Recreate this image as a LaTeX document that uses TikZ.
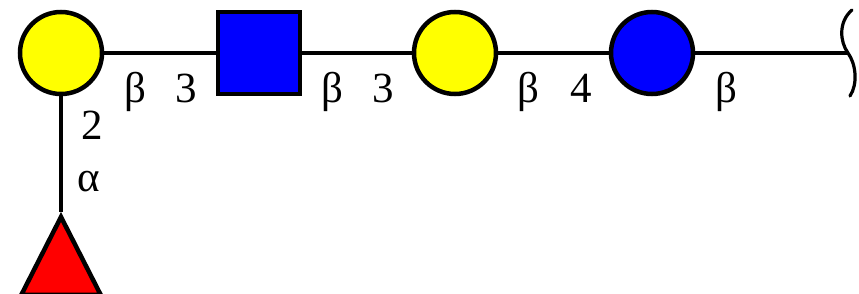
\documentclass[tikz,border=0pt]{standalone}
\usepackage{fontspec}
\setmainfont{Liberation Serif}
\newfontfamily\linkfont{Liberation Serif}
\usetikzlibrary{shapes.geometric}
\definecolor{galyellow}{HTML}{FFFF00}
\definecolor{glcblue}{HTML}{0000FF}
\definecolor{fucred}{HTML}{FF0000}
\tikzset{
  sugar/.style={draw=black, line width=2.25pt, inner sep=0pt},
  gal/.style={sugar, circle, fill=galyellow, minimum size=41pt},
  glc/.style={sugar, circle, fill=glcblue, minimum size=41pt},
  glcnac/.style={sugar, rectangle, fill=glcblue, minimum size=41pt},
  fuc/.style={sugar, isosceles triangle, isosceles triangle apex angle=54, shape border rotate=90, fill=fucred, minimum size=39pt},
  bond/.style={line width=2.25pt},
  link/.style={font=\linkfont\fontsize{21.5}{21.5}\selectfont, anchor=base, inner sep=0pt}
}

\begin{document}
\begin{tikzpicture}[x=0.5pt, y=-0.5pt]
  \useasboundingbox (0,0) rectangle (859,294);

  % residues
  \node[gal] (gal1) at (61,53) {};
  \node[glcnac] (gn) at (259,53) {};
  \node[gal] (gal2) at (455,53) {};
  \node[glc] (glc) at (652,53) {};
  \node[fuc, anchor=apex] (fuc) at (61,212) {};
  \coordinate (redend) at (848,53);

  % bonds
  \draw[bond] (gal1) -- (gn);
  \draw[bond] (gn) -- (gal2);
  \draw[bond] (gal2) -- (glc);
  \draw[bond] (glc) -- (redend);
  \draw[bond] (gal1) -- (fuc.apex);
  \draw[line width=1.6pt, line cap=round]
    ([shift={(4,-43)}]redend) .. controls ([shift={(-10,-31)}]redend) and ([shift={(-8,-11)}]redend) .. (redend)
    .. controls ([shift={(8,11)}]redend) and ([shift={(10,31)}]redend) .. ([shift={(2,43)}]redend);

  % linkage labels
  \node[link] (a1) at (135,103) {β};
  \node[link] (p1) at (186,103) {3};
  \node[link] (a2) at (332,103) {β};
  \node[link] (p2) at (383,103) {3};
  \node[link] (a3) at (528,103) {β};
  \node[link] (p3) at (581,103) {4};
  \node[link] (a4) at (726,103) {β};
  \node[link] (p4) at (92,140) {2};
  \node[link] (a5) at (89,192) {α};
\end{tikzpicture}
\end{document}
